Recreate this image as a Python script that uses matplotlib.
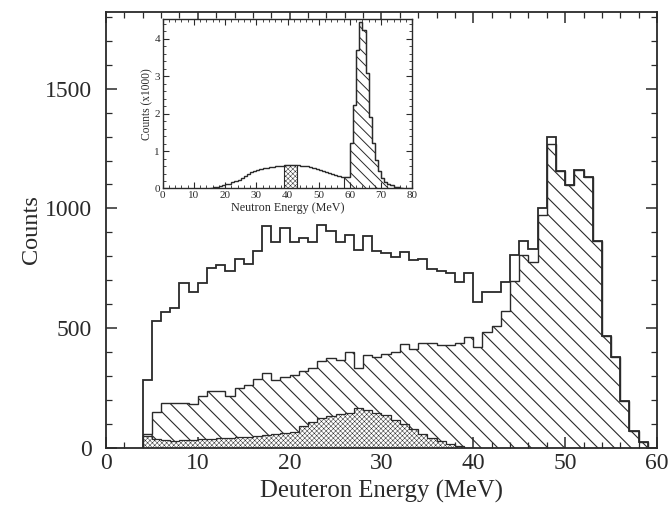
import numpy as np
import matplotlib.pyplot as plt
from matplotlib.ticker import MultipleLocator

plt.rcParams['font.family'] = ['Liberation Serif', 'DejaVu Serif']
plt.rcParams['hatch.color'] = '#333333'

ink = '#2a2a2a'

# Deuteron energy spectrum, 1 MeV bins from 4 to 59 MeV
deut_edges = np.arange(4, 60)
deut_all = [284, 529, 567, 585, 689, 650, 689, 751, 762, 741,
            790, 769, 824, 926, 860, 918, 862, 876, 862, 930,
            905, 858, 890, 826, 887, 822, 815, 798, 820, 785,
            788, 748, 741, 732, 692, 732, 609, 651, 651, 692,
            804, 866, 832, 1002, 1298, 1155, 1096, 1159, 1131, 866,
            469, 382, 198, 72, 26]
deut_gate = [60, 152, 188, 190, 189, 185, 219, 240, 240, 219,
             252, 263, 289, 312, 284, 295, 305, 322, 332, 365,
             374, 368, 401, 335, 389, 380, 392, 400, 434, 412,
             440, 440, 430, 428, 440, 463, 421, 484, 511, 574,
             699, 804, 776, 971, 1270, 1155, 1096, 1159, 1131, 866,
             469, 382, 198, 72, 26]
# stippled component, 4 to 40 MeV
dot_edges = np.arange(4, 41)
deut_dot = [50, 38, 32, 31, 32, 34, 36, 38, 40, 42,
            45, 48, 50, 55, 58, 64, 68, 90, 110, 125,
            132, 140, 148, 166, 160, 145, 136, 118, 100, 80,
            60, 42, 28, 16, 7, 2]

# inset: neutron energy spectrum (counts x1000), 1 MeV bins 15..77
neut_edges = np.arange(15, 78)
neut_all = [0.02, 0.04, 0.05, 0.07, 0.09, 0.11, 0.13, 0.16, 0.19, 0.23,
            0.28, 0.33, 0.38, 0.43, 0.47, 0.50, 0.52, 0.54, 0.56, 0.57,
            0.58, 0.59, 0.60, 0.61, 0.62, 0.62, 0.62, 0.62, 0.62, 0.61,
            0.60, 0.59, 0.57, 0.55, 0.52, 0.50, 0.47, 0.44, 0.42, 0.39,
            0.37, 0.34, 0.32,
            0.32, 0.32, 1.21, 2.23, 3.70, 4.46, 4.23, 3.08, 1.92, 1.21,
            0.77, 0.46, 0.28, 0.18, 0.12, 0.08, 0.05, 0.03, 0.01]
gate_edges = np.arange(58, 78)
neut_gate = [0.32, 0.32, 1.21, 2.23, 3.70, 4.46, 4.23, 3.08, 1.92, 1.21,
             0.77, 0.46, 0.28, 0.18, 0.12, 0.08, 0.05, 0.03, 0.01]
slice_edges = np.arange(39, 44)
neut_slice = [0.62, 0.62, 0.62, 0.62]

fig = plt.figure(figsize=(6.69, 5.09), dpi=100)
ax = fig.add_axes([0.1585, 0.1198, 0.8235, 0.8566])

plt.rcParams['hatch.linewidth'] = 0.8
ax.stairs(deut_gate, deut_edges, fill=True, facecolor='white',
          edgecolor=ink, hatch='\\\\', lw=1.0, zorder=1)
plt.rcParams['hatch.linewidth'] = 0.35
ax.stairs(deut_dot, dot_edges, fill=True, facecolor='white',
          edgecolor=ink, hatch='xxxxxxx', lw=0.9, zorder=2)
ax.stairs(deut_all, deut_edges, color=ink, lw=1.3, zorder=3)

ax.set_xlim(0, 60)
ax.set_ylim(0, 1820)
ax.xaxis.set_major_locator(MultipleLocator(10))
ax.xaxis.set_minor_locator(MultipleLocator(2))
ax.yaxis.set_major_locator(MultipleLocator(500))
ax.yaxis.set_minor_locator(MultipleLocator(100))
ax.tick_params(which='both', direction='in', top=True, right=True,
               color=ink, labelcolor=ink, labelsize=17)
ax.tick_params(which='major', length=8, width=1.1)
ax.tick_params(which='minor', length=4, width=0.9)
ax.tick_params(axis='y', which='major', pad=10)
for s in ax.spines.values():
    s.set_color(ink)
    s.set_linewidth(1.3)
ax.set_xlabel('Deuteron Energy (MeV)', fontsize=17.8, color=ink, labelpad=4)
ax.set_ylabel('Counts', fontsize=17.5, color=ink, labelpad=2)

# inset
ins = fig.add_axes([0.2432, 0.6297, 0.3731, 0.3323])
plt.rcParams['hatch.linewidth'] = 0.7
ins.stairs(neut_gate, gate_edges, fill=True, facecolor='white',
           edgecolor=ink, hatch='\\\\\\', lw=0.8, zorder=1)
plt.rcParams['hatch.linewidth'] = 0.35
ins.stairs(neut_slice, slice_edges, fill=True, facecolor='white',
           edgecolor=ink, hatch='xxxxxxx', lw=0.8, zorder=2)
ins.stairs(neut_all, neut_edges, color=ink, lw=1.0, zorder=3)
ins.set_xlim(0, 80)
ins.set_ylim(0, 4.52)
ins.xaxis.set_major_locator(MultipleLocator(10))
ins.xaxis.set_minor_locator(MultipleLocator(2))
ins.yaxis.set_major_locator(MultipleLocator(1))
ins.yaxis.set_minor_locator(MultipleLocator(0.2))
ins.tick_params(which='both', direction='in', top=True, right=True,
                color=ink, labelcolor=ink, labelsize=8, pad=2)
ins.tick_params(which='major', length=4, width=0.8)
ins.tick_params(which='minor', length=2, width=0.6)
for s in ins.spines.values():
    s.set_color(ink)
    s.set_linewidth(1.0)
ins.set_xlabel('Neutron Energy (MeV)', fontsize=8.7, color=ink, labelpad=1)
ins.set_ylabel('Counts (x1000)', fontsize=8.3, color=ink, labelpad=1)

fig.savefig('out.png', dpi=100)
